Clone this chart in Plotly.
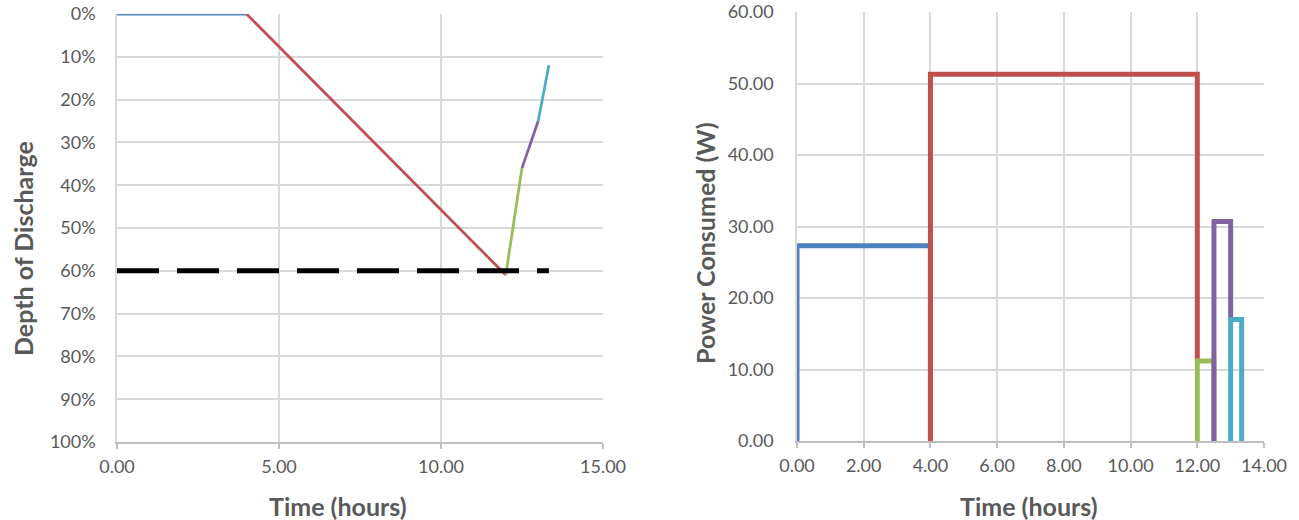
import plotly.graph_objects as go

# ---------- data ----------
# Left chart: depth of discharge over time (segment boundaries)
dod_time = [0, 4, 12, 12.5, 13, 13.33]
dod_value = [0.0, 0.0, 0.61, 0.36, 0.25, 0.12]
dod_limit = 0.60
dod_limit_time = [0, 13.33]

# Right chart: power consumed per phase
phase_start = [0, 4, 12, 12.5, 13]
phase_end = [4, 12, 12.5, 13, 13.33]
phase_power = [27.3, 51.3, 11.2, 30.7, 17.0]

colors = ["#4F81BD", "#C0504D", "#9BBB59", "#8064A2", "#4BACC6"]

W, H = 1299, 520
FONT = "Lato"
TICK_COLOR = "#595959"
GRID = "#D9D9D9"

fig = go.Figure()

# left segments
for i in range(len(dod_time) - 1):
    fig.add_trace(go.Scatter(
        x=[dod_time[i], dod_time[i + 1]],
        y=[dod_value[i], dod_value[i + 1]],
        mode="lines", line=dict(color=colors[i], width=2.75),
        xaxis="x", yaxis="y", showlegend=False, hoverinfo="skip"))

fig.add_trace(go.Scatter(
    x=dod_limit_time, y=[dod_limit, dod_limit],
    mode="lines", line=dict(color="black", width=5, dash="42px,18px"),
    xaxis="x", yaxis="y", showlegend=False, hoverinfo="skip"))

# right step traces
n = len(phase_start)
for i in range(n):
    p = phase_power[i]
    nxt = phase_power[i + 1] if i + 1 < n else 0
    end_y = nxt if nxt < p else 0
    fig.add_trace(go.Scatter(
        x=[phase_start[i], phase_start[i], phase_end[i], phase_end[i]],
        y=[0, p, p, end_y],
        mode="lines", line=dict(color=colors[i], width=5),
        xaxis="x2", yaxis="y2", showlegend=False, hoverinfo="skip"))

tickfont = dict(family=FONT, size=18, color=TICK_COLOR)

def px(x):
    return x / W

def py(y):
    return 1 - y / H

common = dict(tickfont=tickfont, showgrid=True, gridcolor=GRID, gridwidth=1.5,
              showline=True, linewidth=1.5, zeroline=False, automargin=False)

fig.update_layout(
    width=W, height=H,
    margin=dict(l=0, r=0, t=0, b=0),
    paper_bgcolor="white", plot_bgcolor="white",
    font=dict(family=FONT),
    xaxis=dict(domain=[px(117), px(603)], anchor="y", range=[0, 15], dtick=5,
               tickformat=".2f", linecolor="#BFBFBF",
               ticks="outside", ticklen=5, tickcolor="#BFBFBF", tickwidth=1.5,
               ticklabelstandoff=3, **common),
    yaxis=dict(domain=[py(442), py(14)], anchor="x", range=[1, 0], dtick=0.1,
               tickformat=".0%", linecolor=GRID, ticklabelstandoff=16, **common),
    xaxis2=dict(domain=[px(797), px(1264)], anchor="y2", range=[0, 14], dtick=2,
                tickformat=".2f", linecolor="#BFBFBF",
                ticks="outside", ticklen=5, tickcolor="#BFBFBF", tickwidth=1.5,
                ticklabelstandoff=3, **common),
    yaxis2=dict(domain=[py(441), py(12)], anchor="x2", range=[0, 60], dtick=10,
                tickformat=".2f", linecolor=GRID, ticklabelstandoff=18, **common),
)

title_font = dict(family=FONT, size=25, color=TICK_COLOR)
fig.add_annotation(text="<b>Time (hours)</b>", x=px(338), y=py(506), xref="paper",
                   yref="paper", showarrow=False, font=title_font,
                   xanchor="center", yanchor="middle")
fig.add_annotation(text="<b>Time (hours)</b>", x=px(1029), y=py(506), xref="paper",
                   yref="paper", showarrow=False, font=title_font,
                   xanchor="center", yanchor="middle")
fig.add_annotation(text="<b>Depth of Discharge</b>", x=px(23), y=py(249), xref="paper",
                   yref="paper", showarrow=False, font=title_font, textangle=-90,
                   xanchor="center", yanchor="middle")
fig.add_annotation(text="<b>Power Consumed (W)</b>", x=px(705), y=py(243), xref="paper",
                   yref="paper", showarrow=False, font=title_font, textangle=-90,
                   xanchor="center", yanchor="middle")

fig.write_html(
    "out.html",
    config={"displayModeBar": False},
    post_script="document.body.style.margin='0';document.body.style.overflow='hidden';",
)
